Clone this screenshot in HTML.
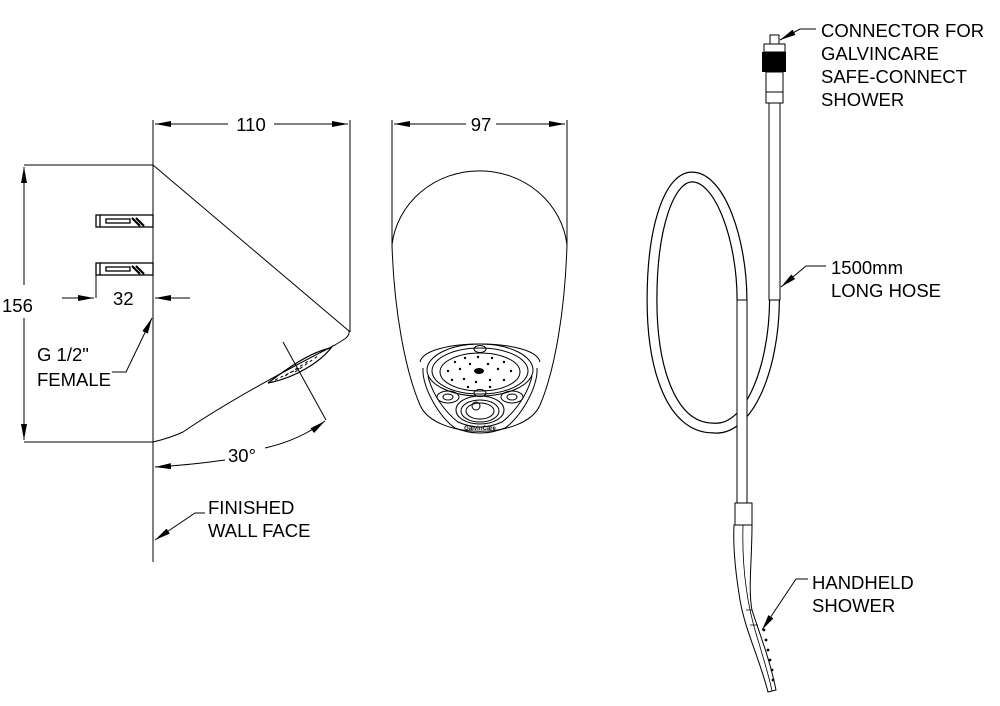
<!DOCTYPE html>
<html><head><meta charset="utf-8"><style>
html,body{margin:0;padding:0;background:#fff;}
svg{display:block;}
text{font-family:"Liberation Sans",sans-serif;font-size:18.5px;fill:#000;}
</style></head><body>
<svg width="1000" height="706" viewBox="0 0 1000 706" xmlns="http://www.w3.org/2000/svg">
<defs>
<marker id="a" viewBox="0 0 16 6" refX="16" refY="3" markerWidth="16" markerHeight="6" orient="auto" markerUnits="userSpaceOnUse"><path d="M0,0 L16,3 L0,6 z" fill="#000"/></marker>
</defs>
<g fill="none" stroke="#000" stroke-width="1">
<!-- SIDE VIEW -->
<line x1="153" y1="120" x2="153" y2="562"/>
<line x1="350" y1="120" x2="350" y2="332"/>
<line x1="228" y1="124" x2="155" y2="124" marker-end="url(#a)"/>
<line x1="274" y1="124" x2="348" y2="124" marker-end="url(#a)"/>
<line x1="24" y1="165" x2="153" y2="165"/>
<line x1="24" y1="442" x2="153" y2="442"/>
<line x1="24" y1="285" x2="24" y2="167" marker-end="url(#a)"/>
<line x1="24" y1="318" x2="24" y2="440" marker-end="url(#a)"/>
<path d="M153,165 L349,331 Q350,336 343,340 L335,345 C290,368 230,400 183,432 Q170,438 153,442"/>
<!-- nozzle -->
<path d="M268,383 C285,370 310,352 331,348 C320,362 295,378 268,383 Z" stroke-width="1.2"/>
<path d="M275,380 L300,368 M285,376 L310,360 M295,372 L318,356" stroke-dasharray="3,3"/>
<line x1="283" y1="342" x2="326" y2="420"/>
<!-- pipes -->
<g stroke-width="1.3">
<rect x="96" y="215" width="57" height="12"/>
<rect x="96" y="263" width="57" height="12"/>
<line x1="100" y1="215" x2="100" y2="227"/><line x1="100" y1="263" x2="100" y2="275"/>
<rect x="106" y="219" width="24" height="4"/><rect x="106" y="267" width="24" height="4"/>
</g>
<path d="M132,218 L140,226 M136,218 L144,226 M132,266 L140,274 M136,266 L144,274" stroke-width="2.2"/>
<!-- 32 dim -->
<line x1="96" y1="275" x2="96" y2="298"/>
<line x1="62" y1="298" x2="94" y2="298" marker-end="url(#a)"/>
<line x1="190" y1="298" x2="155" y2="298" marker-end="url(#a)"/>
<!-- G1/2 leader -->
<polyline points="112,372 126,372 152,318" marker-end="url(#a)"/>
<!-- 30 deg arc -->
<path d="M225,460 Q190,465 155,467" marker-end="url(#a)"/>
<path d="M265,448 Q300,440 325,421" marker-end="url(#a)"/>
<!-- wall leader -->
<polyline points="205,513 195,513 155,540" marker-end="url(#a)"/>

<!-- FRONT VIEW -->
<line x1="392" y1="120" x2="392" y2="245"/>
<line x1="567" y1="120" x2="567" y2="245"/>
<line x1="466" y1="124" x2="394" y2="124" marker-end="url(#a)"/>
<line x1="496" y1="124" x2="565" y2="124" marker-end="url(#a)"/>
<path d="M392,245 A88,83 0 0 1 567,245"/>
<path d="M392,245 C394,310 405,370 420,405 C435,440 525,440 540,405 C555,370 565,310 567,245"/>
<path d="M420,362 C425,338 535,338 540,362"/>
<path d="M423,368 C422,388 440,418 455,428 Q480,438 505,428 C520,418 538,388 537,368"/>
<path d="M428,376 C432,394 445,412 458,422 Q480,432 502,422 C515,412 528,394 532,376"/>
<ellipse cx="480" cy="370" rx="53" ry="26"/>
<ellipse cx="480" cy="371" rx="48" ry="23"/>
<ellipse cx="480" cy="372" rx="40" ry="19"/>
<ellipse cx="480" cy="349" rx="6" ry="3.5"/>
<ellipse cx="480" cy="393" rx="6" ry="3.5"/>
<ellipse cx="448" cy="397" rx="11" ry="6"/><ellipse cx="448" cy="397" rx="5" ry="3"/>
<ellipse cx="512" cy="397" rx="11" ry="6"/><ellipse cx="512" cy="397" rx="5" ry="3"/>
<ellipse cx="480" cy="410" rx="24" ry="14"/>
<ellipse cx="480" cy="411" rx="19" ry="11"/>
<ellipse cx="480" cy="411" rx="14" ry="8"/>
<circle cx="476" cy="406" r="4"/>
</g>
<g fill="#000">
<ellipse cx="479" cy="371" rx="5" ry="3"/>
<circle cx="455" cy="362" r="1.2"/><circle cx="465" cy="358" r="1.2"/><circle cx="478" cy="357" r="1.2"/><circle cx="492" cy="358" r="1.2"/><circle cx="504" cy="362" r="1.2"/>
<circle cx="448" cy="371" r="1.2"/><circle cx="460" cy="369" r="1.2"/><circle cx="498" cy="369" r="1.2"/><circle cx="511" cy="371" r="1.2"/>
<circle cx="452" cy="380" r="1.2"/><circle cx="464" cy="379" r="1.2"/><circle cx="476" cy="382" r="1.2"/><circle cx="490" cy="380" r="1.2"/><circle cx="504" cy="380" r="1.2"/>
<circle cx="468" cy="387" r="1.2"/><circle cx="490" cy="387" r="1.2"/><circle cx="470" cy="364" r="1.2"/><circle cx="488" cy="364" r="1.2"/>
</g>
<text x="480" y="430" text-anchor="middle" style="font-size:6px;font-weight:bold">GalvinCare</text>

<!-- HOSE -->
<path d="M774.5,300 C774,370 748,432 713,428 C672,428 652,370 652,300 C652,225 670,177 692,177 C720,177 742,240 742,300" fill="none" stroke="#000" stroke-width="11"/>
<path d="M774.5,300 C774,370 748,432 713,428 C672,428 652,370 652,300 C652,225 670,177 692,177 C720,177 742,240 742,300" fill="none" stroke="#fff" stroke-width="8.6"/>
<g fill="#fff" stroke="#000" stroke-width="1">
<rect x="769" y="103" width="11" height="197"/>
<rect x="737" y="300" width="10" height="203"/>
<rect x="735" y="503" width="17" height="22"/>
<rect x="770" y="35" width="9" height="9"/>
<rect x="764" y="44" width="21" height="8"/>
<rect x="766" y="72" width="17" height="23"/>
<rect x="766" y="92" width="17" height="11"/>
<path d="M734,525 L752,525 C752,560 748,590 752,610 C760,635 770,660 776,690 L768,692 C760,660 745,630 740,600 C735,570 733,545 734,525 Z"/>
</g>
<rect x="762" y="52" width="24" height="20" fill="#000"/>
<g fill="none" stroke="#000" stroke-width="0.8">
<path d="M743,525 C742,560 745,600 758,640 C764,660 770,680 772,691"/>
<path d="M746,610 L752,610 M750,625 L758,625"/>
</g>
<g fill="#000"><circle cx="764" cy="630" r="1.4"/><circle cx="766" cy="640" r="1.4"/><circle cx="768" cy="650" r="1.4"/><circle cx="770" cy="660" r="1.4"/><circle cx="772" cy="670" r="1.4"/><circle cx="773" cy="680" r="1.4"/></g>
<g fill="none" stroke="#000" stroke-width="1">
<polyline points="816,29 800,29 780,40" marker-end="url(#a)"/>
<polyline points="826,266 806,266 781,287" marker-end="url(#a)"/>
<polyline points="808,579 796,579 762,630" marker-end="url(#a)"/>
</g>

<text x="251" y="131" text-anchor="middle">110</text>
<text x="2" y="312">156</text>
<text x="113" y="305">32</text>
<text x="37" y="361">G 1/2"</text>
<text x="37" y="386">FEMALE</text>
<text x="228" y="462">30°</text>
<text x="208" y="514">FINISHED</text>
<text x="208" y="537">WALL FACE</text>
<text x="481" y="131" text-anchor="middle">97</text>
<text x="821" y="37">CONNECTOR FOR</text>
<text x="821" y="60">GALVINCARE</text>
<text x="821" y="83">SAFE-CONNECT</text>
<text x="821" y="106">SHOWER</text>
<text x="831" y="274">1500mm</text>
<text x="831" y="297">LONG HOSE</text>
<text x="812" y="589">HANDHELD</text>
<text x="812" y="612">SHOWER</text>
</svg>
</body></html>
